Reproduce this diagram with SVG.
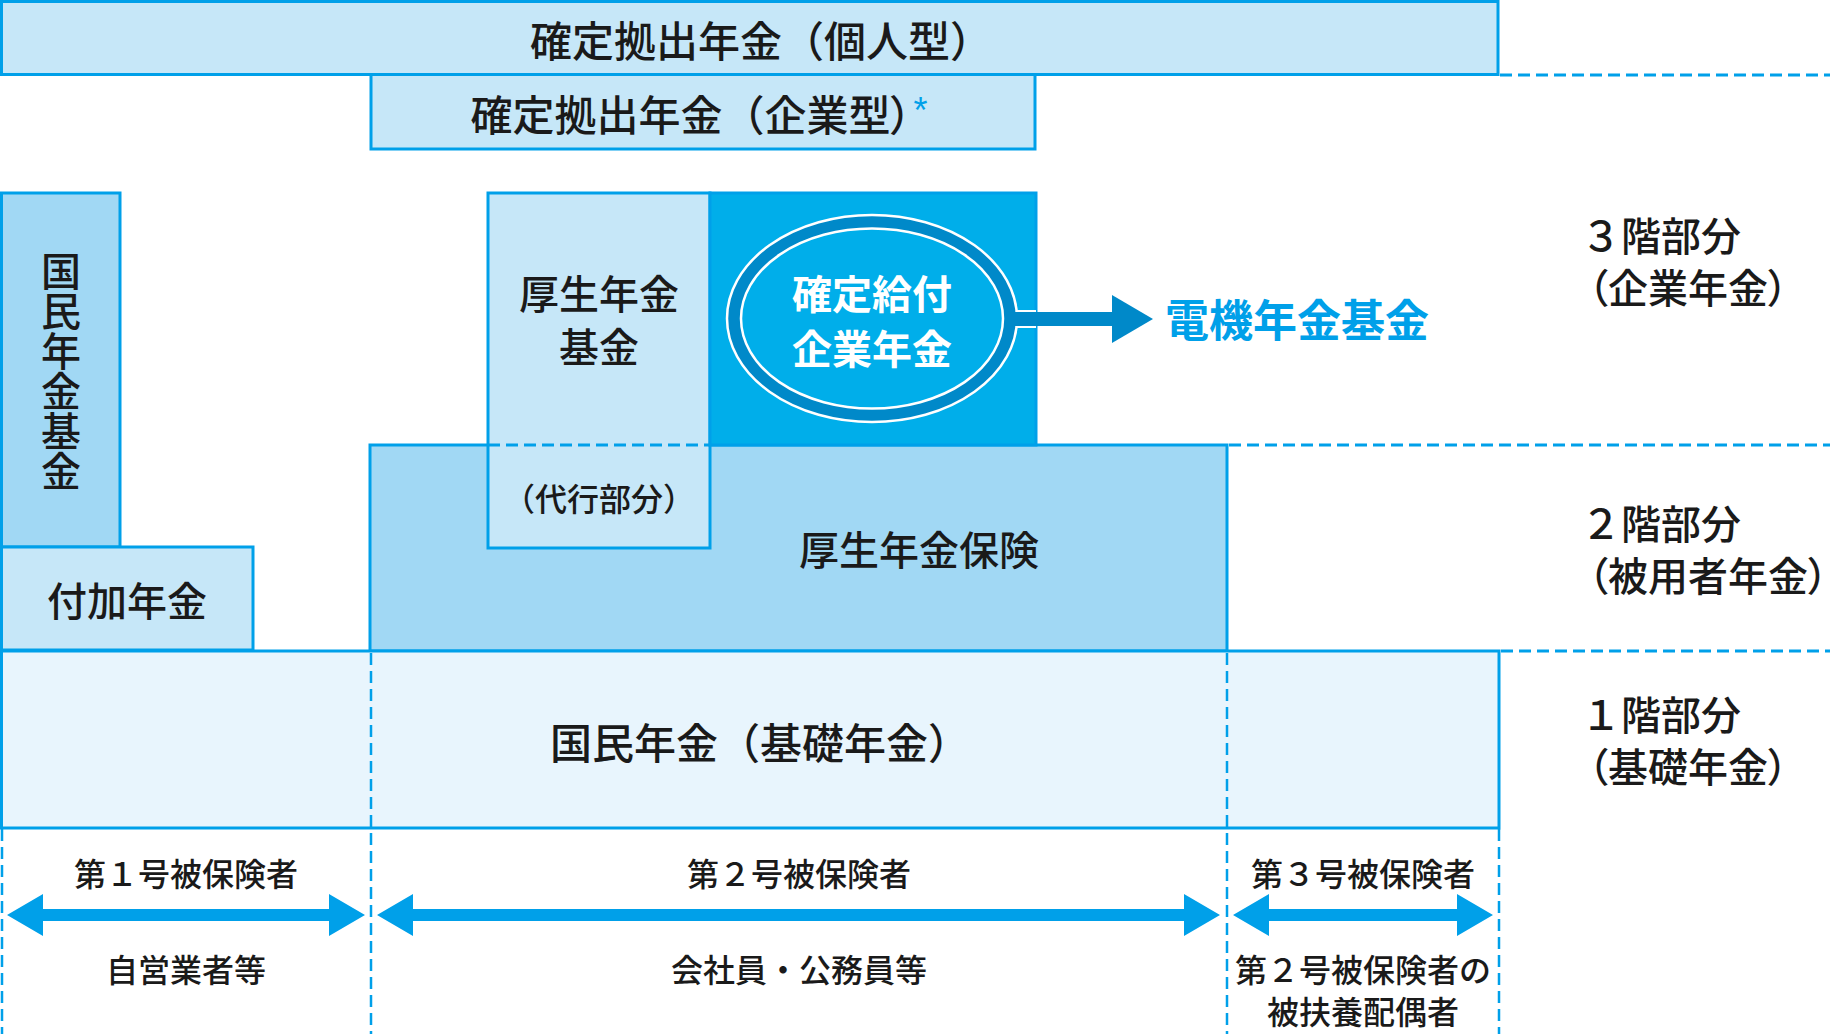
<svg xmlns="http://www.w3.org/2000/svg" width="1830" height="1034" viewBox="0 0 1830 1034">
<defs>
<style>
.b{stroke:#00a0e9;stroke-width:3}
.l1{fill:#c6e7f8}
.l2{fill:#a1d8f4}
.l3{fill:#e8f5fd}
.dk{fill:#00aeea}
.dash{stroke:#00a0e9;stroke-width:3;stroke-dasharray:12 6;fill:none}
.vd{stroke:#00a0e9;stroke-width:2.5;stroke-dasharray:12 6;fill:none}
text{font-family:'Noto Sans CJK JP','Noto Sans CJK SC',sans-serif;font-weight:500;fill:#1a1a1a}
.c{text-anchor:middle;dominant-baseline:central}
.s{dominant-baseline:central}
.f42{font-size:42px}
.f40{font-size:40px}
.f32{font-size:32px}
.w{fill:#ffffff;font-weight:700}
.bl{fill:#00a0e9;font-weight:700}
.arr{fill:#00a0e9}
.dkarr{fill:#0089c9}
.vert{writing-mode:vertical-rl;text-anchor:middle}
.p{font-feature-settings:"palt" 1}
.ast{font-family:'Liberation Sans',sans-serif;font-size:36px;font-weight:400;fill:#00a0e9}
</style>
</defs>
<rect x="0" y="0" width="1830" height="1034" fill="#ffffff"/>

<g id="guides">
  <line class="dash" x1="1500" y1="75" x2="1830" y2="75"/>
  <line class="dash" x1="1229" y1="445" x2="1830" y2="445"/>
  <line class="dash" x1="1501" y1="651" x2="1830" y2="651"/>
</g>

<g id="dc-individual">
  <rect class="b l1" x="1.5" y="1.5" width="1496.5" height="73"/>
  <text class="c f42" x="761" y="38">確定拠出年金（個人型）</text>
</g>

<g id="dc-corporate">
  <rect class="b l1" x="371" y="74.5" width="664" height="74.5"/>
  <text class="c f42" x="699" y="112">確定拠出年金（企業型<tspan class="p">）</tspan><tspan class="ast" dx="2" dy="-2">*</tspan></text>
</g>

<g id="kokumin-nenkin-kikin">
  <rect class="b l2" x="1.5" y="193" width="118.5" height="354"/>
  <text class="vert f40" x="61" y="371">国民年金基金</text>
</g>

<g id="fuka-nenkin">
  <rect class="b l1" x="1.5" y="547" width="251.5" height="103"/>
  <text class="c f40" x="127" y="599">付加年金</text>
</g>

<g id="kosei-nenkin-hoken">
  <rect class="b l2" x="370" y="445" width="857" height="206"/>
  <text class="c f40" x="919" y="548">厚生年金保険</text>
</g>

<g id="kosei-nenkin-kikin">
  <rect class="b l1" x="488" y="193" width="222" height="355"/>
  <line class="dash" x1="488" y1="445" x2="710" y2="445"/>
  <text class="c f40" x="599"><tspan x="599" y="292">厚生年金</tspan><tspan x="599" y="345">基金</tspan></text>
  <text class="c" x="599" y="497" style="font-size:32px">（代行部分）</text>
</g>

<g id="db-box">
  <rect class="b dk" x="710" y="193" width="326" height="252"/>
</g>

<g id="db-nenkin">
  <ellipse cx="872" cy="318.5" rx="145" ry="103.5" fill="#0089c9" stroke="#ffffff" stroke-width="2.5"/>
  <ellipse cx="872" cy="318.5" rx="131" ry="90" fill="#00aeea" stroke="#ffffff" stroke-width="2.5"/>
  <text class="c f40 w" x="872"><tspan x="872" y="292">確定給付</tspan><tspan x="872" y="347">企業年金</tspan></text>
</g>

<g id="kokumin-nenkin">
  <rect class="b l3" x="1.5" y="651" width="1497.5" height="177"/>
  <text class="c f42" x="760" y="740">国民年金（基礎年金）</text>
</g>

<g id="columns">
  <line class="vd" x1="2" y1="829" x2="2" y2="1034"/>
  <line class="vd" x1="371" y1="653" x2="371" y2="1034"/>
  <line class="vd" x1="1227" y1="653" x2="1227" y2="1034"/>
  <line class="vd" x1="1499" y1="829" x2="1499" y2="1034"/>
</g>

<g id="denki-nenkin-kikin">
  <text class="s bl" x="1165" y="318" style="font-size:44px">電機年金基金</text>
</g>

<g id="tier-3">
  <text class="s f40"><tspan x="1581" y="234">３階部分</tspan><tspan class="p" x="1588" y="286">（企業年金）</tspan></text>
</g>
<g id="tier-2">
  <text class="s f40"><tspan x="1581" y="522">２階部分</tspan><tspan class="p" x="1588" y="574">（被用者年金）</tspan></text>
</g>
<g id="tier-1">
  <text class="s f40"><tspan x="1581" y="713">１階部分</tspan><tspan class="p" x="1588" y="765">（基礎年金）</tspan></text>
</g>

<g id="insured-1">
  <text class="c f32" x="186" y="872">第１号被保険者</text>
  <text class="c f32" x="186" y="968">自営業者等</text>
</g>
<g id="insured-2">
  <text class="c f32" x="799" y="872">第２号被保険者</text>
  <text class="c f32" x="799" y="968">会社員・公務員等</text>
</g>
<g id="insured-3">
  <text class="c f32" x="1363" y="872">第３号被保険者</text>
  <text class="c f32" x="1363"><tspan x="1363" y="968">第２号被保険者の</tspan><tspan x="1363" y="1010">被扶養配偶者</tspan></text>
</g>

<g id="connectors">
  <rect class="dkarr" x="1008" y="312" width="106" height="14"/>
  <line x1="1016" y1="311" x2="1036" y2="311" stroke="#ffffff" stroke-width="2"/>
  <line x1="1016" y1="327" x2="1036" y2="327" stroke="#ffffff" stroke-width="2"/>
  <polygon class="dkarr" points="1112,295 1153,319 1112,343"/>
  <path class="arr" d="M7,915 L43,894 L43,909 L329,909 L329,894 L365,915 L329,936 L329,921 L43,921 L43,936 Z"/>
  <path class="arr" d="M377,915 L413,894 L413,909 L1184,909 L1184,894 L1220,915 L1184,936 L1184,921 L413,921 L413,936 Z"/>
  <path class="arr" d="M1233,915 L1269,894 L1269,909 L1457,909 L1457,894 L1493,915 L1457,936 L1457,921 L1269,921 L1269,936 Z"/>
</g>
</svg>
